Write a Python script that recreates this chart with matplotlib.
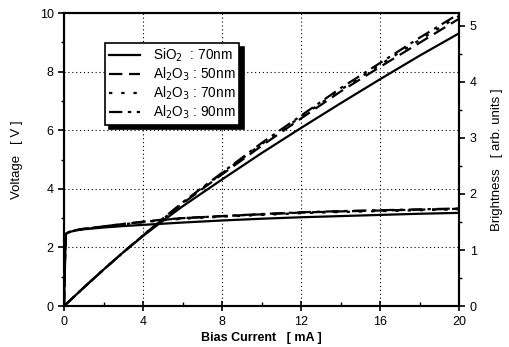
import numpy as np
import matplotlib.pyplot as plt
from matplotlib.ticker import MultipleLocator

plt.rcParams["font.family"] = ["Liberation Sans", "DejaVu Sans"]

# bias current grid for the voltage curves [mA]
current_v = [0.0, 0.03, 0.06, 0.1, 0.3, 0.6, 1, 2, 3, 4, 5, 6, 8, 10, 12, 14, 16, 18, 20]
volt_sio2_70 = [0.0, 0.8, 1.8, 2.47, 2.53, 2.58, 2.62, 2.68, 2.73, 2.77, 2.81, 2.85, 2.92, 2.98, 3.03, 3.07, 3.11, 3.15, 3.18]
volt_al_50 = [0.0, 0.8, 1.8, 2.47, 2.54, 2.59, 2.63, 2.72, 2.8, 2.88, 2.95, 3.0, 3.07, 3.13, 3.19, 3.23, 3.26, 3.29, 3.32]
volt_al_70 = [0.0, 0.8, 1.8, 2.47, 2.54, 2.58, 2.63, 2.71, 2.79, 2.86, 2.93, 2.98, 3.05, 3.11, 3.17, 3.21, 3.24, 3.27, 3.3]
volt_al_90 = [0.0, 0.8, 1.8, 2.47, 2.54, 2.59, 2.64, 2.72, 2.8, 2.87, 2.94, 3.0, 3.07, 3.14, 3.2, 3.24, 3.27, 3.3, 3.33]

# bias current grid for the brightness curves [mA]
current_b = [0, 1, 2, 3, 4, 5, 6, 8, 10, 12, 14, 16, 18, 20]
bright_sio2_70 = [0.0, 0.33, 0.65, 0.96, 1.25, 1.52, 1.78, 2.26, 2.73, 3.18, 3.62, 4.05, 4.47, 4.87]
bright_al_50 = [0.0, 0.33, 0.65, 0.96, 1.26, 1.55, 1.83, 2.35, 2.86, 3.35, 3.83, 4.27, 4.7, 5.13]
bright_al_70 = [0.0, 0.33, 0.65, 0.96, 1.26, 1.55, 1.84, 2.37, 2.89, 3.38, 3.86, 4.31, 4.75, 5.18]
bright_al_90 = [0.0, 0.33, 0.65, 0.96, 1.26, 1.56, 1.85, 2.38, 2.91, 3.4, 3.89, 4.34, 4.79, 5.22]

labels = ["SiO$_2$  : 70nm", "Al$_2$O$_3$ : 50nm", "Al$_2$O$_3$ : 70nm", "Al$_2$O$_3$ : 90nm"]
styles = ["-", (0, (6, 3)), (0, (1.5, 4)), (0, (6, 2.5, 1.5, 2.5))]
volts = [volt_sio2_70, volt_al_50, volt_al_70, volt_al_90]
brights = [bright_sio2_70, bright_al_50, bright_al_70, bright_al_90]

fig = plt.figure(figsize=(5.10, 3.47), dpi=100)
ax = fig.add_axes([0.1255, 0.118, 0.775, 0.8445])
ax2 = ax.twinx()

handles = []
for v, b, ls, lab in zip(volts, brights, styles, labels):
    h, = ax.plot(current_v, v, color="black", linestyle=ls, lw=1.6, label=lab)
    ax2.plot(current_b, b, color="black", linestyle=ls, lw=1.6)
    handles.append(h)

ax.set_xlim(0, 20)
ax.set_ylim(0, 10)
ax2.set_ylim(0, 5.23)

ax.xaxis.set_major_locator(MultipleLocator(4))
ax.xaxis.set_minor_locator(MultipleLocator(2))
ax.yaxis.set_major_locator(MultipleLocator(2))
ax.yaxis.set_minor_locator(MultipleLocator(1))
ax2.yaxis.set_major_locator(MultipleLocator(1))
ax2.yaxis.set_minor_locator(MultipleLocator(0.5))

ax.grid(True, which="major", color="black", linestyle=(0, (1, 2.5)), lw=0.8)

ax.tick_params(axis="x", which="major", direction="inout", length=7, width=1.2, labelsize=9)
ax.tick_params(axis="x", which="minor", direction="in", length=3, width=1)
ax.tick_params(axis="y", which="major", direction="out", length=4, width=1.2, labelsize=9)
ax.tick_params(axis="y", which="minor", direction="out", length=2, width=1)
ax2.tick_params(axis="y", which="major", direction="out", length=4, width=1.2, labelsize=9)
ax2.tick_params(axis="y", which="minor", direction="out", length=2, width=1)

for a in (ax, ax2):
    for s in a.spines.values():
        s.set_linewidth(1.5)

ax.set_xlabel("Bias Current   [ mA ]", fontsize=9, fontweight="bold", labelpad=3)
ax.set_ylabel("Voltage   [ V ]", fontsize=9.5, labelpad=12)
ax2.set_ylabel("Brightness   [ arb. units ]", fontsize=9.5, labelpad=10)

legend_kw = dict(handles=handles, loc="upper left", bbox_to_anchor=(0.104, 0.899),
                 borderaxespad=0, fontsize=9.8, handlelength=2.3, handletextpad=0.9,
                 labelspacing=0.12, borderpad=0.3, fancybox=False,
                 framealpha=1, edgecolor="black")
try:
    leg = ax.legend(shadow={"ox": 3, "oy": -3, "color": "black", "alpha": 1}, **legend_kw)
except Exception:
    leg = ax.legend(shadow=True, **legend_kw)
leg.get_frame().set_linewidth(1.2)
leg.set_zorder(5)

fig.savefig("out.png", dpi=100)
